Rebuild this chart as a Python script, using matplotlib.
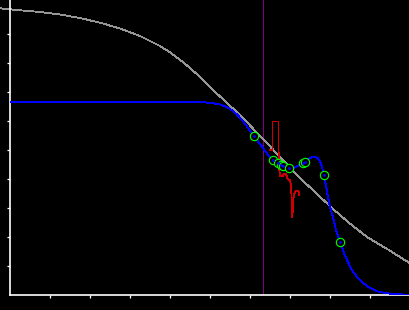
import matplotlib
matplotlib.use("Agg")
import matplotlib.pyplot as plt

# grey reference curve
gray_x = [-0.25, 0.0, 0.25, 0.75, 1.25, 1.75, 2.25, 2.75, 3.25, 3.75, 4.0,
          4.25, 4.5, 4.75, 5.075, 5.75, 6.325, 7.25, 8.075, 8.5, 8.925,
          9.45, 10.0]
gray_y = [9.886, 9.852, 9.817, 9.759, 9.672, 9.552, 9.390, 9.190, 8.931,
          8.586, 8.370, 8.110, 7.830, 7.517, 7.069, 6.207, 5.379, 4.034,
          2.966, 2.460, 2.0, 1.569, 1.093]

# blue fitted curve
blue_x = [0.0, 4.825, 5.05, 5.25, 5.425, 5.575, 5.7, 5.825, 5.95, 6.1, 6.2,
          6.325, 6.45, 6.575, 6.7, 6.825, 6.975, 7.125, 7.25, 7.35, 7.45,
          7.575, 7.675, 7.75, 7.8, 7.85, 7.9, 7.95, 8.0, 8.075, 8.15, 8.25,
          8.35, 8.425, 8.55, 8.675, 8.825, 9.0, 9.2, 9.425, 9.7, 10.0]
blue_y = [6.645, 6.645, 6.621, 6.569, 6.483, 6.345, 6.19, 6.0, 5.759, 5.483,
          5.293, 5.069, 4.828, 4.638, 4.534, 4.448, 4.379, 4.397, 4.483,
          4.569, 4.690, 4.759, 4.741, 4.621, 4.414, 4.138, 3.759, 3.379,
          3.034, 2.690, 2.241, 1.828, 1.448, 1.207, 0.862, 0.621, 0.414,
          0.241, 0.121, 0.059, 0.024, 0.010]

# red measured trace
red_x = [6.4875, 6.5625, 6.5625, 6.7125, 6.7125, 6.725, 6.7375, 6.75, 6.825,
         6.85, 6.9, 6.9375, 7.0, 7.025, 7.0375, 7.0575, 7.075, 7.0875,
         7.1125, 7.15, 7.2125, 7.225]
red_y = [5.0, 5.0, 5.983, 5.983, 5.0, 4.483, 4.241, 4.103, 4.103, 4.19,
         4.172, 4.0, 3.966, 3.759, 3.448, 2.690, 3.103, 3.345, 3.517, 3.586,
         3.586, 3.448]

# green sample points
pts_x = [6.1, 6.575, 6.6875, 6.7625, 6.825, 6.975, 7.325, 7.3625, 7.85, 8.25]
pts_y = [5.483, 4.638, 4.541, 4.490, 4.448, 4.379, 4.552, 4.593, 4.138, 1.817]

marker_x = 6.33
ticks = [1, 2, 3, 4, 5, 6, 7, 8, 9]

fig = plt.figure(figsize=(4.1, 3.1), dpi=100, facecolor="black")
ax = fig.add_axes([10 / 410, 15 / 310, 400 / 410, 295 / 310])
ax.set_facecolor("black")

ax.axvline(marker_x, color="#800080", linewidth=0.5, zorder=1,
           antialiased=False)
ax.plot(gray_x, gray_y, color="#969696", linewidth=0.6, zorder=2,
        clip_on=False, antialiased=False)
ax.plot(blue_x, blue_y, color="#0000ff", linewidth=0.65, zorder=3,
        antialiased=False)
ax.plot(red_x, red_y, color="#cc0000", linewidth=0.6, zorder=4,
        antialiased=False)
ax.plot(pts_x, pts_y, linestyle="none", marker="o", markersize=6,
        markerfacecolor="black", markeredgecolor="#00ff00",
        markeredgewidth=0.8, zorder=5)
ax.plot(pts_x, pts_y, linestyle="none", marker="o", markersize=1.0,
        markerfacecolor="#0000ff", markeredgecolor="#0000ff", zorder=6)

ax.set_xlim(0, 10)
ax.set_ylim(0, 295 / 29)
ax.set_xticks(ticks)
ax.set_yticks(ticks)
ax.set_xticklabels([])
ax.set_yticklabels([])
ax.tick_params(colors="white", length=2.5, width=0.9, direction="out")
for side in ("top", "right"):
    ax.spines[side].set_visible(False)
for side in ("left", "bottom"):
    ax.spines[side].set_color("white")
    ax.spines[side].set_linewidth(1.2)

fig.savefig("out.png", dpi=100, facecolor="black")
